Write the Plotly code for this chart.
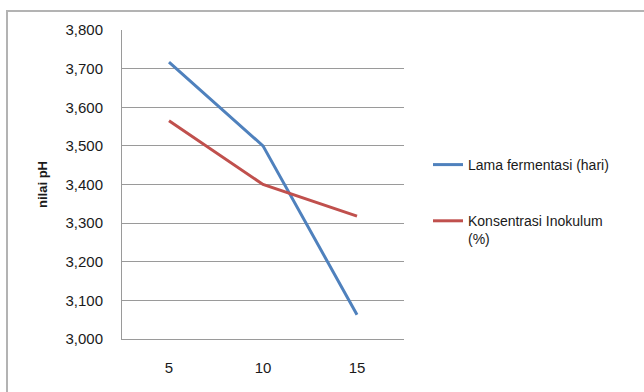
import plotly.graph_objects as go

# Lama fermentasi / konsentrasi inokulum levels on the category axis
categories = ["5", "10", "15"]

# pH values for each treatment
lama_fermentasi = [3.717, 3.500, 3.063]
konsentrasi_inokulum = [3.565, 3.400, 3.318]

series_names = ["Lama fermentasi (hari)", "Konsentrasi Inokulum<br>(%)"]
series_colors = ["#4F81BD", "#C0504D"]

W, H = 644, 392
L, R, T, B = 122, 240, 30, 53
plot_w = W - L - R
plot_h = H - T - B

font_family = "Liberation Sans, Arial, sans-serif"
text_color = "#1a1a1a"
grid_color = "#9a9a9a"

fig = go.Figure()
for i, (name, vals) in enumerate(zip(series_names, [lama_fermentasi, konsentrasi_inokulum])):
    fig.add_trace(go.Scatter(
        x=categories, y=vals, mode="lines", name=name,
        legendgroup=f"g{i}",
        line=dict(color=series_colors[i], width=3),
    ))

# outer chart border (starts inside the page and runs off the right/bottom edge)
def px_to_paper_x(px):
    return (px - L) / plot_w

def px_to_paper_y(py):
    return (H - B - py) / plot_h

fig.add_shape(type="rect", xref="paper", yref="paper",
              x0=px_to_paper_x(7), x1=px_to_paper_x(W + 20),
              y0=px_to_paper_y(H + 20), y1=px_to_paper_y(11),
              line=dict(color="#b3b3b3", width=2), fillcolor="rgba(0,0,0,0)",
              layer="below")

fig.update_layout(
    width=W, height=H,
    margin=dict(l=L, r=R, t=T, b=B, pad=0),
    paper_bgcolor="white", plot_bgcolor="white",
    separators=",.",
    font=dict(family=font_family, size=14, color=text_color),
    showlegend=True,
    legend=dict(
        x=px_to_paper_x(428), y=px_to_paper_y(149),
        xanchor="left", yanchor="top",
        tracegroupgap=35, valign="top",
        font=dict(family=font_family, size=14, color=text_color),
        bgcolor="rgba(0,0,0,0)", itemwidth=30,
    ),
    xaxis=dict(
        type="category", range=[-0.5, 2.5],
        showgrid=False, zeroline=False,
        showline=True, linecolor=grid_color, linewidth=1,
        ticks="", ticklabelstandoff=15,
        tickfont=dict(family=font_family, size=15, color=text_color),
    ),
    yaxis=dict(
        range=[3.0, 3.8], dtick=0.1, tick0=3.0, tickformat=".3f",
        showgrid=True, gridcolor=grid_color, gridwidth=1,
        zeroline=False,
        showline=True, linecolor=grid_color, linewidth=1,
        ticks="", ticklabelstandoff=15,
        tickfont=dict(family=font_family, size=15, color=text_color),
        title=dict(text="<b>nilai pH</b>", standoff=14,
                   font=dict(family=font_family, size=13, color=text_color)),
    ),
)

fig.write_html("out.html")
